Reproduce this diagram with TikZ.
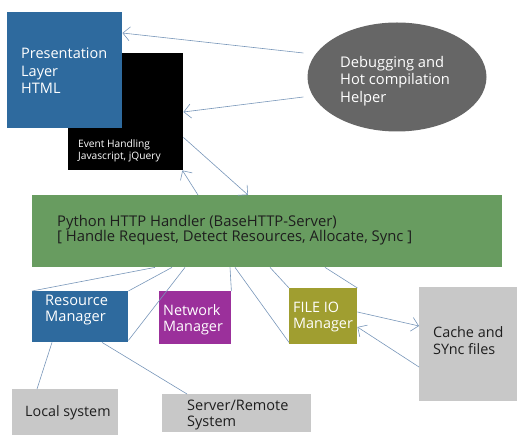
\documentclass[tikz,border=0pt]{standalone}
\usepackage{fontspec}
\setmainfont{Open Sans}
\usetikzlibrary{arrows.meta,shapes.geometric,calc}
\definecolor{cblue}{RGB}{46,106,158}
\definecolor{cgray}{RGB}{102,102,102}
\definecolor{cgreen}{RGB}{104,156,96}
\definecolor{cpurple}{RGB}{155,48,155}
\definecolor{colive}{RGB}{160,158,48}
\definecolor{clight}{RGB}{200,200,200}
\definecolor{cline}{RGB}{120,150,185}
\definecolor{ctext}{RGB}{30,30,30}
\tikzset{
  box/.style={draw=none, rectangle, anchor=north west, inner sep=0pt},
  conn/.style={draw=cline, line width=0.6pt},
  arr/.style={conn, -{Straight Barb[length=7pt,width=14pt]}},
  wtxt/.style={text=white, anchor=west, inner sep=0pt, align=left},
  btxt/.style={text=ctext, anchor=west, inner sep=0pt, align=left},
}
\begin{document}
\begin{tikzpicture}[x=1pt,y=-1pt]
\useasboundingbox (0,0) rectangle (517,435);
% boxes
\node[box, fill=black, minimum width=115pt, minimum height=117pt] (ev) at (68,53) {};
\node[box, fill=cblue, minimum width=115pt, minimum height=116pt] (pl) at (7,12) {};
\node[ellipse, fill=cgray, minimum width=179pt, minimum height=109pt, inner sep=0pt] (dbg) at (397,77) {};
\node[box, fill=cgreen, minimum width=470pt, minimum height=72pt] (py) at (32,195) {};
\node[box, fill=cblue, minimum width=96pt, minimum height=51pt] (rm) at (32,291) {};
\node[box, fill=cpurple, minimum width=72pt, minimum height=53pt] (nm) at (159,291) {};
\node[box, fill=colive, minimum width=68pt, minimum height=56pt] (fio) at (289,288) {};
\node[box, fill=clight, minimum width=98pt, minimum height=114pt] (cache) at (419,287) {};
\node[box, fill=clight, minimum width=106pt, minimum height=46pt] (loc) at (12,389) {};
\node[box, fill=clight, minimum width=149pt, minimum height=38pt] (srv) at (162,394) {};
% texts
\node[wtxt, font=\fontsize{14.5}{17.5}\selectfont] (plt) at (21,71) {Presentation\\Layer\\HTML};
\node[wtxt, font=\fontsize{10.2}{12}\selectfont] (evt) at (78,151) {Event Handling\\Javascript, jQuery};
\node[wtxt, font=\fontsize{14.7}{17.5}\selectfont] (dbgt) at (340,81) {Debugging and\\Hot compilation\\Helper};
\node[btxt, font=\fontsize{14.8}{15.5}\selectfont] (pyt) at (57,230) {Python HTTP Handler (BaseHTTP-Server)\\{[} Handle Request, Detect Resources, Allocate, Sync ]};
\node[wtxt, font=\fontsize{14.6}{16}\selectfont] (rmt) at (45,310) {Resource\\Manager};
\node[wtxt, font=\fontsize{14.4}{16}\selectfont] (nmt) at (163,320) {Network\\Manager};
\node[wtxt, font=\fontsize{14.4}{16.5}\selectfont] (fiot) at (293,317) {FILE IO\\Manager};
\node[btxt, font=\fontsize{14.4}{17}\selectfont] (cachet) at (433,341) {Cache and\\SYnc files};
\node[btxt, font=\fontsize{14.3}{15}\selectfont] (loct) at (25,413) {Local system};
\node[btxt, font=\fontsize{14.5}{16}\selectfont] (srvt) at (187,415) {Server/Remote\\System};
% connectors top
\draw[arr] ([shift={(-4pt,24pt)}]dbg.west) -- ([yshift=-21pt]pl.north east);
\draw[arr] ([shift={(-4pt,-20pt)}]dbg.west) -- ([yshift=-59pt]ev.north east);
\draw[arr] ([yshift=33pt]ev.south east) -- ([xshift=216pt]py.north west);
\draw[arr] ([xshift=166pt]py.north west) -- ([xshift=-1pt]ev.south east);
% connectors bottom
\draw[conn] ([xshift=123pt]py.south west) -- (rm.north west);
\draw[conn] ([xshift=140pt]py.south west) -- (rm.north east);
\draw[conn] ([xshift=153pt]py.south west) -- ([yshift=2pt]rm.south east);
\draw[conn] ([xshift=198pt]py.south west) -- (nm.north east);
\draw[conn] ([xshift=203pt]py.south west) -- ([yshift=2pt]fio.south west);
\draw[conn] ([xshift=238pt]py.south west) -- (fio.north west);
\draw[conn] ([xshift=293pt]py.south west) -- (fio.north east);
\draw[conn] ([xshift=20pt]rm.south west) -- ([xshift=25pt]loc.north west);
\draw[conn] ([xshift=70pt]rm.south west) -- ([xshift=25pt]srv.north west);
\draw[arr] ([yshift=-24pt]fio.north east) -- ([yshift=-39pt]cache.north west);
\draw[arr] ([yshift=-80pt]cache.north west) -- ([yshift=-39pt]fio.north east);
\end{tikzpicture}
\end{document}
